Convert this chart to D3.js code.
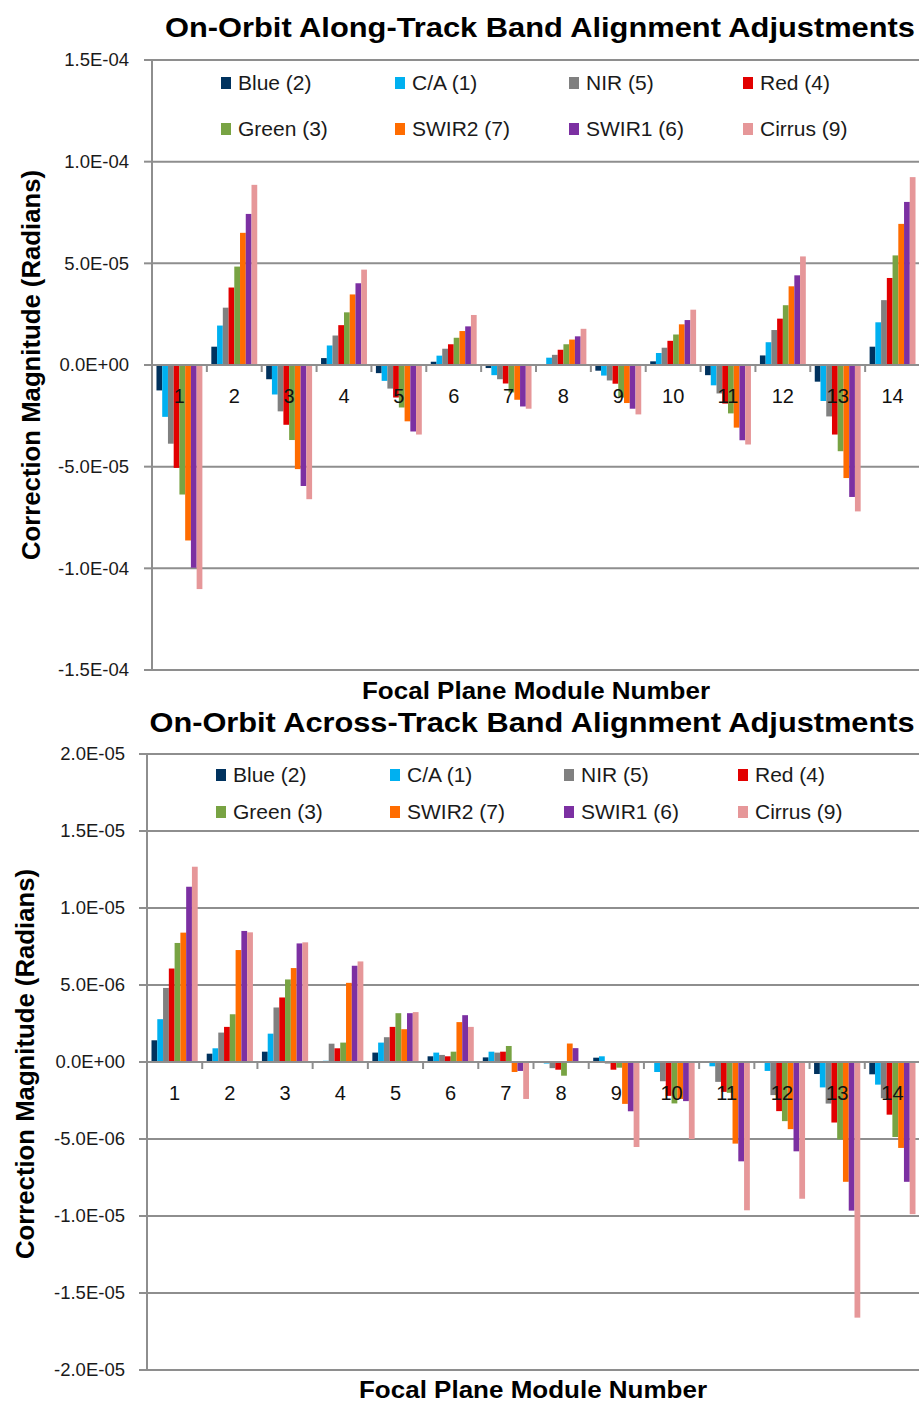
<!DOCTYPE html>
<html>
<head>
<meta charset="utf-8">
<script src="https://cdn.jsdelivr.net/npm/d3@7/dist/d3.min.js"></script>
<style>
  body { margin: 0; background: #fff; }
  svg  { display: block; font-family: "Liberation Sans", Arial, sans-serif; }
  .grid-line { stroke: #8e8e8e; stroke-width: 2; }
  .axis-line { stroke: #8e8e8e; stroke-width: 2; }
  .tick-lbl  { font-size: 18.5px; fill: #1a1a1a; }
  .cat-lbl   { font-size: 20px; fill: #111; }
  .legend-lbl{ font-size: 21px; fill: #1a1a1a; }
  .title     { font-size: 27px; font-weight: bold; fill: #000; }
  .axis-ttl  { font-size: 23px; font-weight: bold; fill: #000; }
</style>
</head>
<body>
<svg id="chart" width="919" height="1403"></svg>
<script>
// ── Data ────────────────────────────────────────────────────────────────────
const MODULES = [1, 2, 3, 4, 5, 6, 7, 8, 9, 10, 11, 12, 13, 14];
const BANDS   = ["Blue (2)", "C/A (1)", "NIR (5)", "Red (4)",
                 "Green (3)", "SWIR2 (7)", "SWIR1 (6)", "Cirrus (9)"];
const BAND_COLORS = ["#00325e", "#00b0f0", "#808080", "#e20000",
                     "#78a343", "#ff6c00", "#7c30a2", "#e69799"];

// Along-track corrections (radians), one value per focal plane module
const ALONG_BLUE   = [-1.25e-5, 0.90e-5, -0.70e-5, 0.34e-5, -0.40e-5, 0.16e-5, -0.15e-5, 0.02e-5, -0.28e-5, 0.18e-5, -0.50e-5, 0.47e-5, -0.82e-5, 0.90e-5];
const ALONG_CA     = [-2.55e-5, 1.94e-5, -1.45e-5, 0.96e-5, -0.78e-5, 0.46e-5, -0.50e-5, 0.36e-5, -0.52e-5, 0.59e-5, -1.00e-5, 1.12e-5, -1.77e-5, 2.10e-5];
const ALONG_NIR    = [-3.87e-5, 2.82e-5, -2.28e-5, 1.45e-5, -1.16e-5, 0.80e-5, -0.70e-5, 0.50e-5, -0.76e-5, 0.85e-5, -1.40e-5, 1.72e-5, -2.53e-5, 3.19e-5];
const ALONG_RED    = [-5.06e-5, 3.81e-5, -2.94e-5, 1.96e-5, -1.60e-5, 1.02e-5, -0.91e-5, 0.75e-5, -0.92e-5, 1.19e-5, -1.90e-5, 2.28e-5, -3.42e-5, 4.28e-5];
const ALONG_GREEN  = [-6.37e-5, 4.84e-5, -3.69e-5, 2.59e-5, -2.09e-5, 1.34e-5, -1.35e-5, 1.02e-5, -1.60e-5, 1.50e-5, -2.38e-5, 2.94e-5, -4.24e-5, 5.39e-5];
const ALONG_SWIR2  = [-8.63e-5, 6.50e-5, -5.12e-5, 3.47e-5, -2.77e-5, 1.67e-5, -1.71e-5, 1.25e-5, -1.87e-5, 2.00e-5, -3.08e-5, 3.87e-5, -5.56e-5, 6.94e-5];
const ALONG_SWIR1  = [-9.97e-5, 7.43e-5, -5.95e-5, 4.02e-5, -3.27e-5, 1.90e-5, -2.04e-5, 1.41e-5, -2.15e-5, 2.21e-5, -3.70e-5, 4.41e-5, -6.49e-5, 8.02e-5];
const ALONG_CIRRUS = [-11.02e-5, 8.86e-5, -6.60e-5, 4.69e-5, -3.42e-5, 2.46e-5, -2.15e-5, 1.78e-5, -2.43e-5, 2.72e-5, -3.91e-5, 5.34e-5, -7.20e-5, 9.24e-5];

// Across-track corrections (radians)
const ACROSS_BLUE   = [1.41e-6, 0.54e-6, 0.67e-6, 0.00e-6, 0.61e-6, 0.37e-6, 0.30e-6, 0.00e-6, 0.28e-6, 0.00e-6, 0.00e-6, 0.00e-6, -0.78e-6, -0.80e-6];
const ACROSS_CA     = [2.78e-6, 0.89e-6, 1.84e-6, 0.08e-6, 1.26e-6, 0.61e-6, 0.67e-6, -0.10e-6, 0.37e-6, -0.65e-6, -0.28e-6, -0.58e-6, -1.65e-6, -1.47e-6];
const ACROSS_NIR    = [4.81e-6, 1.91e-6, 3.54e-6, 1.19e-6, 1.61e-6, 0.46e-6, 0.61e-6, -0.40e-6, -0.10e-6, -1.25e-6, -1.29e-6, -2.15e-6, -2.70e-6, -2.35e-6];
const ACROSS_RED    = [6.07e-6, 2.28e-6, 4.19e-6, 0.89e-6, 2.28e-6, 0.37e-6, 0.67e-6, -0.50e-6, -0.50e-6, -2.20e-6, -1.94e-6, -3.19e-6, -3.93e-6, -3.42e-6];
const ACROSS_GREEN  = [7.73e-6, 3.10e-6, 5.36e-6, 1.26e-6, 3.17e-6, 0.67e-6, 1.04e-6, -0.89e-6, -0.37e-6, -2.69e-6, -2.00e-6, -3.84e-6, -5.03e-6, -4.87e-6];
const ACROSS_SWIR2  = [8.40e-6, 7.27e-6, 6.10e-6, 5.14e-6, 2.13e-6, 2.59e-6, -0.65e-6, 1.20e-6, -2.72e-6, -2.40e-6, -5.30e-6, -4.36e-6, -7.78e-6, -5.58e-6];
const ACROSS_SWIR1  = [11.38e-6, 8.51e-6, 7.70e-6, 6.25e-6, 3.17e-6, 3.04e-6, -0.58e-6, 0.90e-6, -3.20e-6, -2.54e-6, -6.45e-6, -5.80e-6, -9.65e-6, -7.78e-6];
const ACROSS_CIRRUS = [12.68e-6, 8.42e-6, 7.77e-6, 6.53e-6, 3.24e-6, 2.28e-6, -2.40e-6, 0.05e-6, -5.52e-6, -5.00e-6, -9.63e-6, -8.88e-6, -16.60e-6, -9.88e-6];

const ALONG_TICKS  = [-1.5e-4, -1.0e-4, -5.0e-5, 0, 5.0e-5, 1.0e-4, 1.5e-4];
const ACROSS_TICKS = [-2.0e-5, -1.5e-5, -1.0e-5, -5.0e-6, 0, 5.0e-6, 1.0e-5, 1.5e-5, 2.0e-5];

const ALONG_SERIES  = [ALONG_BLUE, ALONG_CA, ALONG_NIR, ALONG_RED, ALONG_GREEN, ALONG_SWIR2, ALONG_SWIR1, ALONG_CIRRUS];
const ACROSS_SERIES = [ACROSS_BLUE, ACROSS_CA, ACROSS_NIR, ACROSS_RED, ACROSS_GREEN, ACROSS_SWIR2, ACROSS_SWIR1, ACROSS_CIRRUS];

// Excel-like "1.5E-04" labels
function fmtE(v) {
  if (v === 0) return "0.0E+00";
  const [m, e] = v.toExponential(1).split("e");
  const n = +e;
  return m + "E" + (n < 0 ? "-" : "+") + String(Math.abs(n)).padStart(2, "0");
}

const svg = d3.select("#chart");

// ── One clustered-column panel ──────────────────────────────────────────────
function drawPanel(P) {
  const g = svg.append("g");

  const x0 = d3.scaleBand().domain(MODULES).range([P.left, P.right]);
  const x1 = d3.scaleBand().domain(BANDS).range([0, x0.bandwidth()]).paddingOuter(0.78);
  const y  = d3.scaleLinear().domain(d3.extent(P.ticks)).range([P.yBottom, P.yTop]);
  const y0 = y(0);

  // rows: module × band
  const rows = MODULES.map((m, i) => ({
    module: m,
    values: BANDS.map((b, j) => ({ band: b, color: BAND_COLORS[j], v: P.series[j][i] }))
  }));

  // Grid
  g.append("g").selectAll("line")
    .data(P.ticks.filter(t => t !== 0))
    .join("line").attr("class", "grid-line")
    .attr("x1", P.left).attr("x2", 919)
    .attr("y1", d => y(d)).attr("y2", d => y(d));

  // Bars
  g.append("g").selectAll("g")
    .data(rows)
    .join("g")
    .attr("transform", d => `translate(${x0(d.module)},0)`)
    .selectAll("rect")
    .data(d => d.values)
    .join("rect")
    .attr("x", d => x1(d.band))
    .attr("width", x1.bandwidth())
    .attr("y", d => Math.min(y(d.v), y0))
    .attr("height", d => Math.abs(y(d.v) - y0))
    .attr("fill", d => d.color);

  // Category axis at zero with tick marks between modules
  g.append("line").attr("class", "axis-line")
    .attr("x1", P.left).attr("x2", 919).attr("y1", y0).attr("y2", y0);
  g.append("g").selectAll("line")
    .data(MODULES)
    .join("line").attr("class", "axis-line")
    .attr("x1", d => x0(d) + x0.bandwidth()).attr("x2", d => x0(d) + x0.bandwidth())
    .attr("y1", y0).attr("y2", y0 + 7);

  // Value axis
  g.append("line").attr("class", "axis-line")
    .attr("x1", P.left).attr("x2", P.left)
    .attr("y1", y(d3.max(P.ticks))).attr("y2", y(d3.min(P.ticks)));
  g.append("g").selectAll("line")
    .data(P.ticks)
    .join("line").attr("class", "axis-line")
    .attr("x1", P.left - 8).attr("x2", P.left)
    .attr("y1", d => y(d)).attr("y2", d => y(d));
  g.append("g").selectAll("text")
    .data(P.ticks)
    .join("text").attr("class", "tick-lbl")
    .attr("x", P.tickX).attr("y", d => y(d)).attr("dy", "0.35em")
    .attr("text-anchor", "end")
    .text(fmtE);

  // Module numbers
  g.append("g").selectAll("text")
    .data(MODULES)
    .join("text").attr("class", "cat-lbl")
    .attr("x", d => x0(d) + x0.bandwidth() / 2)
    .attr("y", y0 + 38)
    .attr("text-anchor", "middle")
    .text(d => d);

  // Legend (2 rows × 4 columns)
  const leg = g.append("g");
  BANDS.forEach((b, i) => {
    const row = leg.append("g")
      .attr("transform", `translate(${P.legX + (i % 4) * 174},${P.legY + Math.floor(i / 4) * P.legRow})`);
    row.append("rect").attr("x", 0).attr("y", -6).attr("width", 10).attr("height", 12)
      .attr("fill", BAND_COLORS[i]);
    row.append("text").attr("class", "legend-lbl")
      .attr("x", 17).attr("dy", "0.35em").text(b);
  });

  // Titles
  g.append("text").attr("class", "title")
    .attr("x", P.titleX).attr("y", P.titleY).attr("text-anchor", "middle")
    .attr("textLength", P.titleLen).attr("lengthAdjust", "spacingAndGlyphs")
    .text(P.title);
  g.append("text").attr("class", "axis-ttl")
    .attr("x", P.xTtlX).attr("y", P.xTtlY).attr("text-anchor", "middle")
    .attr("textLength", 348).attr("lengthAdjust", "spacingAndGlyphs")
    .text("Focal Plane Module Number");
  g.append("text").attr("class", "axis-ttl")
    .attr("transform", `translate(${P.yTtlX},${P.yTtlY}) rotate(-90)`)
    .attr("text-anchor", "middle")
    .attr("textLength", 390).attr("lengthAdjust", "spacingAndGlyphs")
    .style("font-size", "25px")
    .text("Correction Magnitude (Radians)");
}

drawPanel({
  series: ALONG_SERIES, ticks: ALONG_TICKS,
  left: 152, right: 920, yTop: 60, yBottom: 670, tickX: 129,
  legX: 221, legY: 83, legRow: 46,
  title: "On-Orbit Along-Track Band Alignment Adjustments", titleX: 540, titleY: 37, titleLen: 750,
  xTtlX: 536, xTtlY: 699, yTtlX: 40, yTtlY: 365
});

drawPanel({
  series: ACROSS_SERIES, ticks: ACROSS_TICKS,
  left: 147, right: 920, yTop: 754, yBottom: 1370, tickX: 125,
  legX: 216, legY: 775, legRow: 37,
  title: "On-Orbit Across-Track Band Alignment Adjustments", titleX: 532, titleY: 732, titleLen: 765,
  xTtlX: 533, xTtlY: 1398, yTtlX: 34, yTtlY: 1064
});
</script>
</body>
</html>
